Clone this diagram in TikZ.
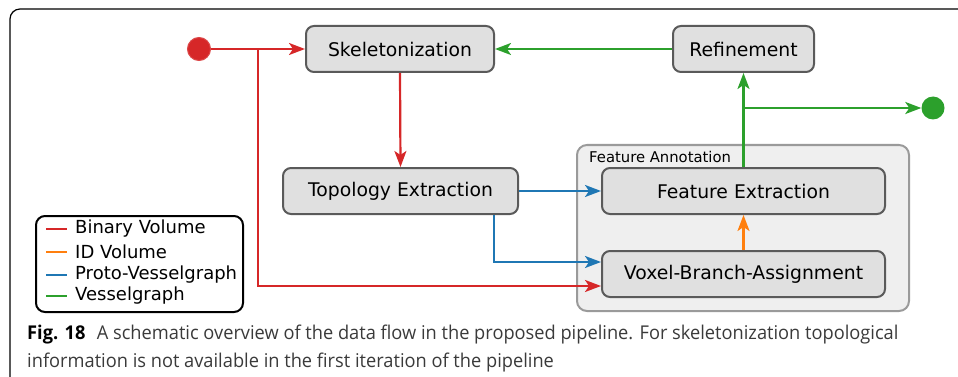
\documentclass[tikz,border=0pt]{standalone}
\usepackage{fontspec}
\setmainfont{DejaVu Sans}
\newfontfamily\capfont[FakeStretch=0.96]{Open Sans}
\usetikzlibrary{arrows.meta,calc}
\definecolor{cred}{HTML}{D62728}
\definecolor{corange}{HTML}{FF7F0E}
\definecolor{cblue}{HTML}{1F77B4}
\definecolor{cgreen}{HTML}{2CA02C}
\definecolor{boxfill}{HTML}{E0E0E0}
\definecolor{boxdraw}{HTML}{5A5A5A}
\definecolor{grpfill}{HTML}{EFEFEF}
\definecolor{grpdraw}{HTML}{9A9A9A}
\definecolor{captext}{HTML}{3A3A3A}
\tikzset{
  stepbox/.style={draw=boxdraw, fill=boxfill, line width=2pt, rounded corners=8pt,
    minimum height=46pt, inner sep=0pt, font=\fontsize{18.8}{22}\selectfont},
  flow/.style={line width=2.2pt, -{Stealth[length=16pt,width=12pt,inset=4pt]}},
  dot/.style={circle, minimum size=23pt, inner sep=0pt},
  legline/.style={line width=2.5pt},
  legtext/.style={anchor=west, inner sep=0pt, font=\fontsize{18}{20}\selectfont},
}
\begin{document}
\begin{tikzpicture}[x=1pt,y=-1pt]
\useasboundingbox (0,0) rectangle (958,377);
% outer frame
\draw[line width=1.2pt, black] (10,377) -- (10,19) arc[start angle=180,end angle=270,radius=10] -- (958,9);
% group
\node[draw=grpdraw, fill=grpfill, line width=2pt, rounded corners=10pt, minimum width=332pt, minimum height=166pt, inner sep=0pt] (grp) at (743,228) {};
\node[anchor=west, inner sep=0pt, font=\fontsize{14.8}{16}\selectfont] (grplabel) at (589,157) {Feature Annotation};
% boxes
\node[stepbox, minimum width=188pt] (skel) at (400,49) {Skeletonization};
\node[stepbox, minimum width=141pt] (refine) at (743.5,49) {Refinement};
\node[stepbox, minimum width=235pt] (topo) at (400.5,191) {Topology Extraction};
\node[stepbox, minimum width=283pt] (fe) at (743.5,191) {Feature Extraction};
\node[stepbox, minimum width=283pt] (vba) at (743.5,274) {Voxel-Branch-Assignment};
% start / end
\node[dot, fill=cred, draw=cred!85!white, line width=1pt] (start) at (199,49) {};
\node[dot, fill=cgreen] (stop) at (933,108) {};
\coordinate (j1) at (258,49);
\coordinate (j2) at (743.5,108);
% connectors
\draw[flow, cred] (start) -- (skel.west);
\draw[flow, cred] (j1) |- ($(vba.west)+(0,12)$);
\draw[flow, cred] (skel.south) -- (topo.north);
\draw[flow, cgreen] (refine.west) -- (skel.east);
\draw[flow, cgreen] (fe.north) -- (refine.south);
\draw[flow, cgreen] (j2) -- (stop.west);
\draw[flow, cblue] (topo.east) -- (fe.west);
\draw[flow, cblue] ($(topo.south)+(93.5,0)$) |- ($(vba.west)+(0,-12)$);
\draw[flow, corange] (vba.north) -- (fe.south);
% legend
\node[draw=black, line width=2pt, rounded corners=9pt, minimum width=207pt, minimum height=96pt, inner sep=0pt] (legend) at (139.5,264) {};
\draw[legline, cred] (46,229) -- (67,229);
\node[legtext] (l1) at (75,229) {Binary Volume};
\draw[legline, corange] (46,252) -- (67,252);
\node[legtext] (l2) at (75,252) {ID Volume};
\draw[legline, cblue] (46,275) -- (67,275);
\node[legtext] (l3) at (75,275) {Proto-Vesselgraph};
\draw[legline, cgreen] (46,296) -- (67,296);
\node[legtext] (l4) at (75,296) {Vesselgraph};
% caption
\node[anchor=base west, inner sep=0pt, text=captext, font=\capfont\fontsize{19}{22}\selectfont] (cap1) at (27,339) {{\color{black}\bfseries Fig. 18}\hspace{0.6em}A schematic overview of the data flow in the proposed pipeline. For skeletonization topological};
\node[anchor=base west, inner sep=0pt, text=captext, font=\capfont\fontsize{19}{22}\selectfont] (cap2) at (27,367) {information is not available in the first iteration of the pipeline};
\end{tikzpicture}
\end{document}
